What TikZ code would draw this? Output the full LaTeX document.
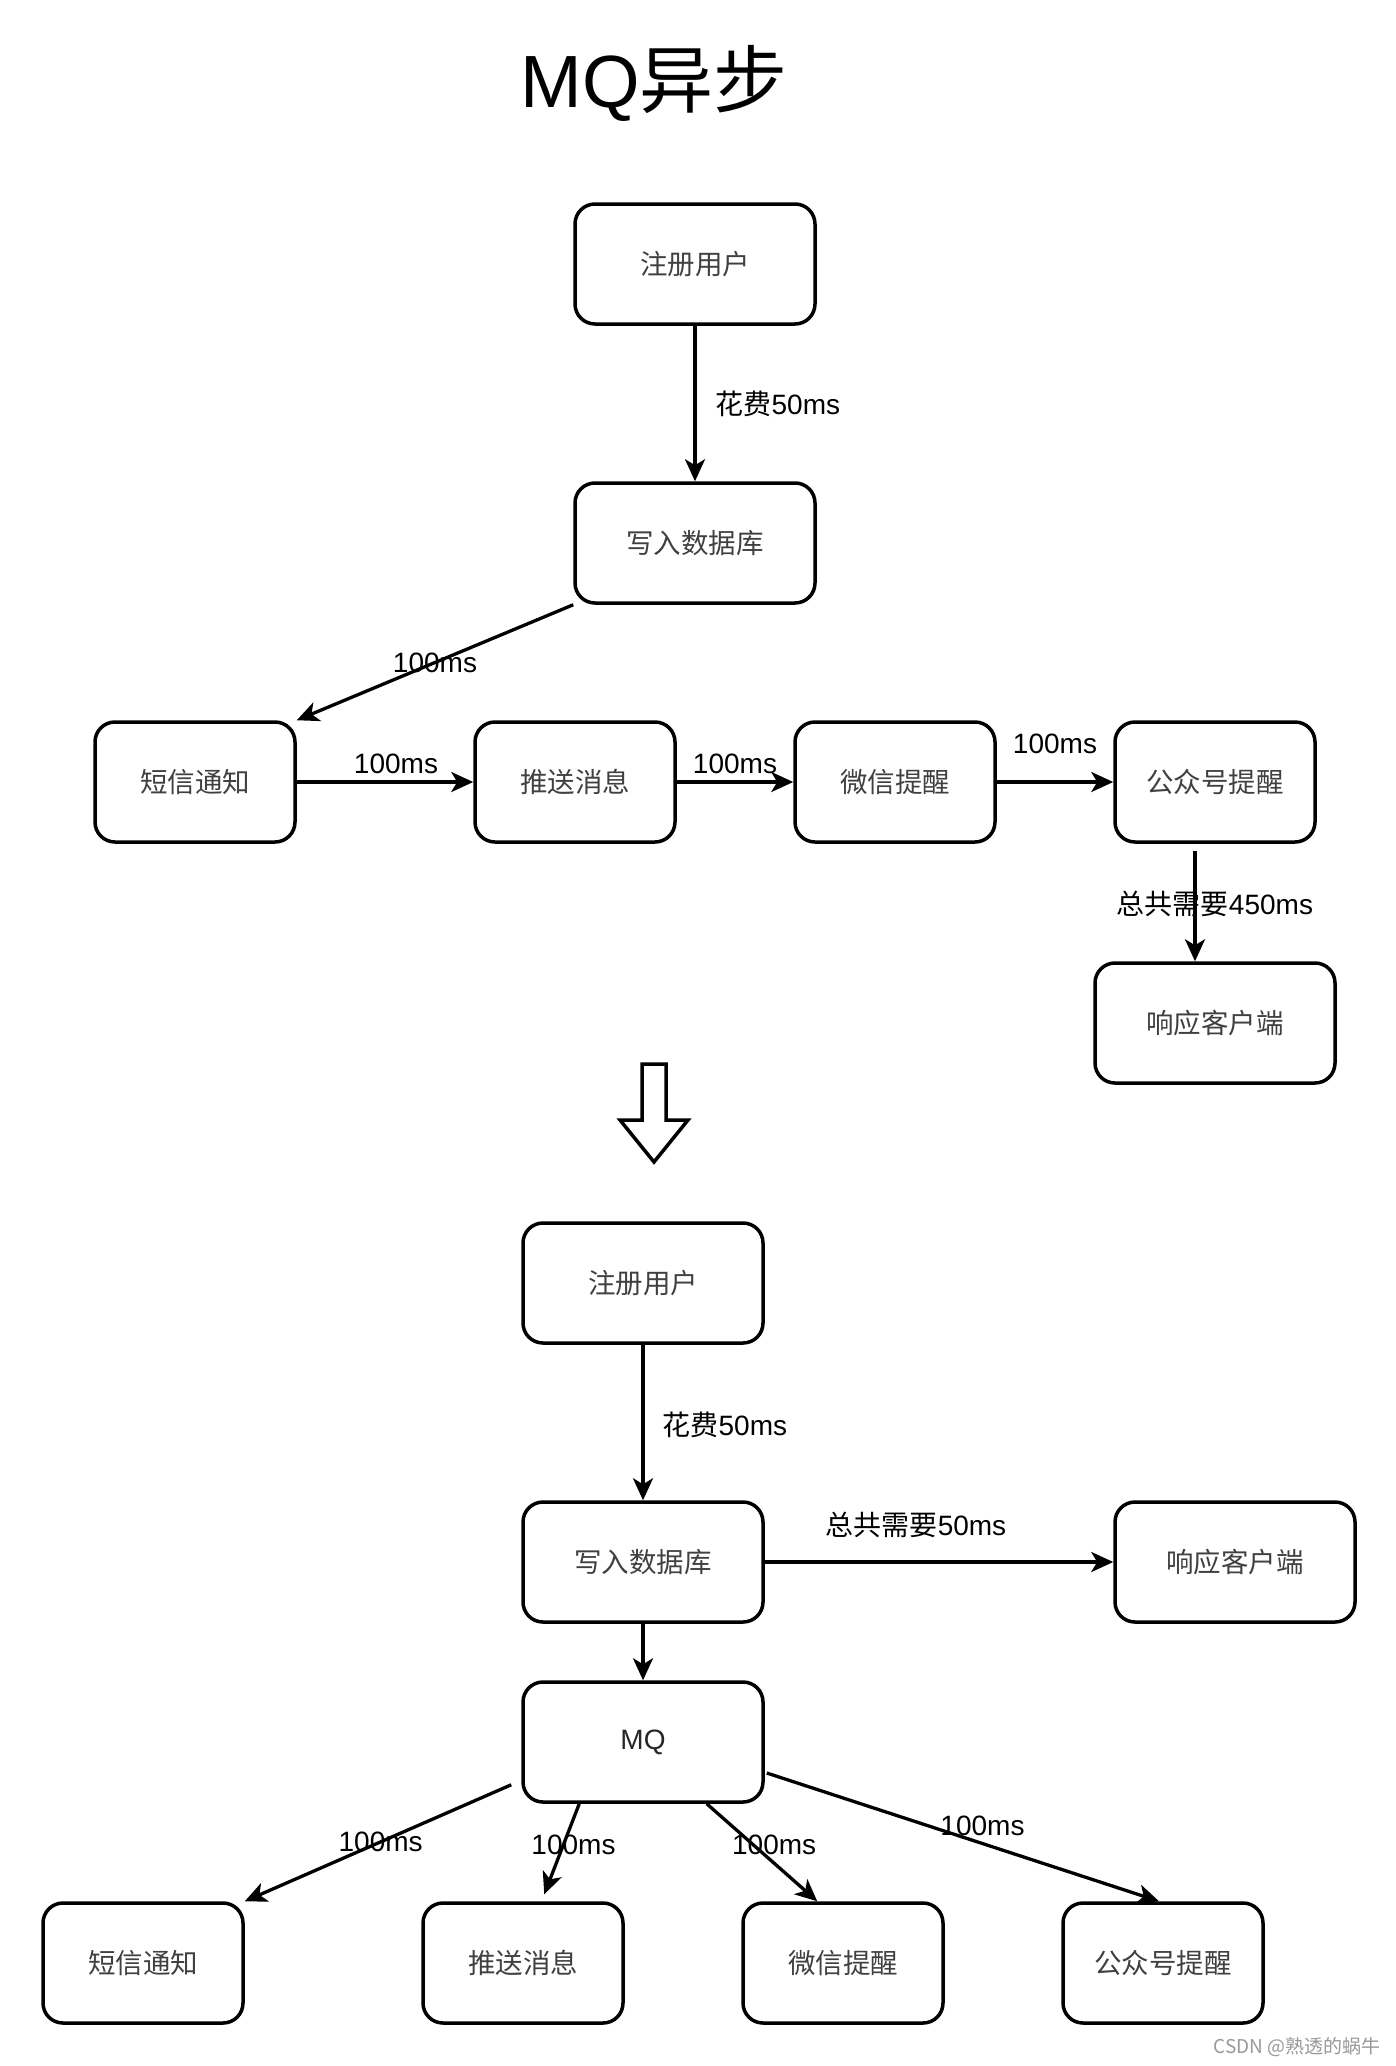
\documentclass[tikz,border=0pt]{standalone}
\usepackage{fontspec}
\setmainfont{Liberation Sans}
\newfontfamily\cjk{Noto Sans CJK SC}
\usetikzlibrary{arrows.meta,calc}
\begin{document}
\begin{tikzpicture}[x=1pt,y=-1pt,
  box/.style={draw, line width=3.5pt, rounded corners=20pt, minimum height=120pt,
    text=black!75, font=\fontsize{27.5}{31}\selectfont\cjk, inner sep=0pt},
  wbox/.style={box, minimum width=240pt},
  nbox/.style={box, minimum width=200pt},
  arr/.style={line width=3.3pt, -{Stealth[length=22pt,width=20pt,inset=6pt]}},
  lbl/.style={font=\fontsize{28}{32}\selectfont, text=black, inner sep=0pt}
]
\fill[white] (0,0) rectangle (1396,2066);
\useasboundingbox (0,0) rectangle (1396,2066);

% title
\node[font=\fontsize{74}{80}\selectfont, inner sep=0pt] (title) at (654,83) {MQ{\cjk 异步}};

% ---------- top (synchronous) ----------
\node[wbox] (reg1) at (695,264) {注册用户};
\node[wbox] (db1) at (695,543) {写入数据库};
\node[nbox] (sms1) at (195,782) {短信通知};
\node[nbox] (push1) at (575,782) {推送消息};
\node[nbox] (wx1) at (895,782) {微信提醒};
\node[nbox] (gzh1) at (1215,782) {公众号提醒};
\node[wbox] (resp1) at (1215,1023) {响应客户端};

\draw[arr] (reg1.south) -- node[lbl, anchor=west, xshift=19pt] (l1) {{\cjk 花费}50ms} (db1.north);
\draw[arr] (db1.south west) -- node[lbl, pos=0.5] (l2) {100ms} (sms1.north east);
\draw[arr] (sms1.east) -- node[lbl, pos=0.5, xshift=11pt, yshift=18pt] (l3) {100ms} (push1.west);
\draw[arr] (push1.east) -- node[lbl, pos=0.5, yshift=18pt] (l4) {100ms} (wx1.west);
\draw[arr] (wx1.east) -- node[lbl, pos=0.5, yshift=38pt] (l5) {100ms} (gzh1.west);
\draw[arr] ([xshift=-20pt,yshift=-7pt]gzh1.south) -- node[lbl, pos=0.5, xshift=20pt, yshift=2pt] (l6) {{\cjk 总共需要}450ms} ([xshift=-20pt]resp1.north);

% hollow arrow
\draw[line width=3.5pt, line join=miter, fill=white] (642,1064) -- (666,1064) -- (666,1120) -- (688,1120) -- (654,1162) -- (620,1120) -- (642,1120) -- cycle;

% ---------- bottom (MQ asynchronous) ----------
\node[wbox] (reg2) at (643,1283) {注册用户};
\node[wbox] (db2) at (643,1562) {写入数据库};
\node[wbox] (resp2) at (1235,1562) {响应客户端};
\node[wbox, font=\fontsize{28}{32}\selectfont, text=black!85] (mq) at (643,1742) {MQ};
\node[nbox] (sms2) at (143,1963) {短信通知};
\node[nbox] (push2) at (523,1963) {推送消息};
\node[nbox] (wx2) at (843,1963) {微信提醒};
\node[nbox] (gzh2) at (1163,1963) {公众号提醒};

\draw[arr] (reg2.south) -- node[lbl, anchor=west, xshift=18pt, yshift=-2pt] (l7) {{\cjk 花费}50ms} (db2.north);
\draw[arr] (db2.east) -- node[lbl, pos=0.5, xshift=-23pt, yshift=37pt] (l8) {{\cjk 总共需要}50ms} (resp2.west);
\draw[arr] (db2.south) -- (mq.north);

\draw[arr] ([xshift=-10pt,yshift=19pt]mq.south west) -- node[lbl, pos=0.49] (l9) {100ms} (sms2.north east);
\draw[arr] ([xshift=58pt]mq.south west) -- node[lbl, pos=0.45, xshift=10pt] (l10) {100ms} ([xshift=123pt,yshift=7pt]push2.north west);
\draw[arr] ([xshift=-58pt]mq.south east) -- node[lbl, pos=0.42, xshift=21pt] (l11) {100ms} ([xshift=76pt]wx2.north west);
\draw[arr] ([xshift=2pt,yshift=-31pt]mq.east) -- node[lbl, pos=0.55, yshift=18pt] (l12) {100ms} ([xshift=-4pt]gzh2.north);

% watermark
\node[font=\fontsize{19}{21}\selectfont\cjk, text=black!40, anchor=east, inner sep=0pt] (wm) at (1381,2047) {CSDN @熟透的蜗牛};
\end{tikzpicture}
\end{document}
